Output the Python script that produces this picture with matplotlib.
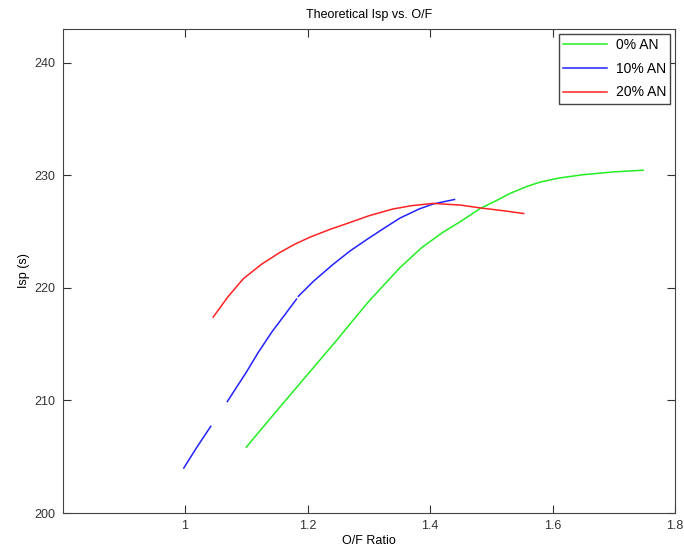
import numpy as np
import matplotlib
matplotlib.use('Agg')
import matplotlib.pyplot as plt

plt.rcParams['font.family'] = ['Liberation Sans', 'DejaVu Sans']

# 0% AN
of_0 = [1.10, 1.15, 1.20, 1.25, 1.274, 1.30, 1.351, 1.387, 1.42, 1.45, 1.482, 1.51, 1.531, 1.558, 1.58, 1.61, 1.65, 1.70, 1.748]
isp_0 = [205.85, 209.1, 212.3, 215.5, 217.1, 218.8, 221.8, 223.6, 224.9, 225.9, 227.05, 227.8, 228.4, 229.0, 229.4, 229.75, 230.05, 230.3, 230.45]

# 10% AN (gaps in the source data)
of_10 = [0.998, 1.02, 1.042, np.nan, 1.069, 1.10, 1.12, 1.142, 1.16, 1.182, np.nan, 1.185, 1.21, 1.242,
         1.27, 1.297, 1.325, 1.351, 1.382, 1.405, 1.44]
isp_10 = [204.0, 205.9, 207.7, np.nan, 209.9, 212.5, 214.3, 216.1, 217.4, 219.0, np.nan, 219.25, 220.6, 222.1,
          223.3, 224.3, 225.3, 226.2, 227.0, 227.45, 227.85]

# 20% AN
of_20 = [1.046, 1.07, 1.095, 1.125, 1.155, 1.18, 1.204, 1.237, 1.269, 1.30, 1.339, 1.37, 1.405, 1.45, 1.482, 1.52, 1.553]
isp_20 = [217.4, 219.2, 220.8, 222.1, 223.15, 223.9, 224.5, 225.2, 225.8, 226.4, 227.0, 227.3, 227.5, 227.35, 227.1, 226.85, 226.6]

fig = plt.figure(figsize=(6.84, 5.56), dpi=100)
ax = fig.add_axes([0.0914, 0.0773, 0.8955, 0.8707])

ax.plot(of_0, isp_0, color='#22ee22', lw=1.1, label='0% AN')
ax.plot(of_10, isp_10, color='#2222ff', lw=1.1, label='10% AN')
ax.plot(of_20, isp_20, color='#ff2222', lw=1.1, label='20% AN')

ax.set_xlim(0.8, 1.8)
ax.set_ylim(200, 243)
ax.set_xticks([1.0, 1.2, 1.4, 1.6, 1.8])
ax.set_xticklabels(['1', '1.2', '1.4', '1.6', '1.8'])
ax.set_yticks([200, 210, 220, 230, 240])
ax.tick_params(direction='in', top=True, right=True, length=6, labelsize=9, pad=5, colors='#333333')
for s in ax.spines.values():
    s.set_color('#444444')

ax.set_title('Theoretical Isp vs. O/F', fontsize=9, pad=8)
ax.set_xlabel('O/F Ratio', fontsize=9, labelpad=2)
ax.set_ylabel('Isp (s)', fontsize=9, labelpad=3)

leg = ax.legend(loc='upper right', fontsize=10, fancybox=False, framealpha=1,
                handlelength=3.2, handletextpad=0.6, borderaxespad=0.35,
                borderpad=0.3, labelspacing=0.7)
leg.get_frame().set_edgecolor('#444444')

fig.savefig('out.png', dpi=100)
